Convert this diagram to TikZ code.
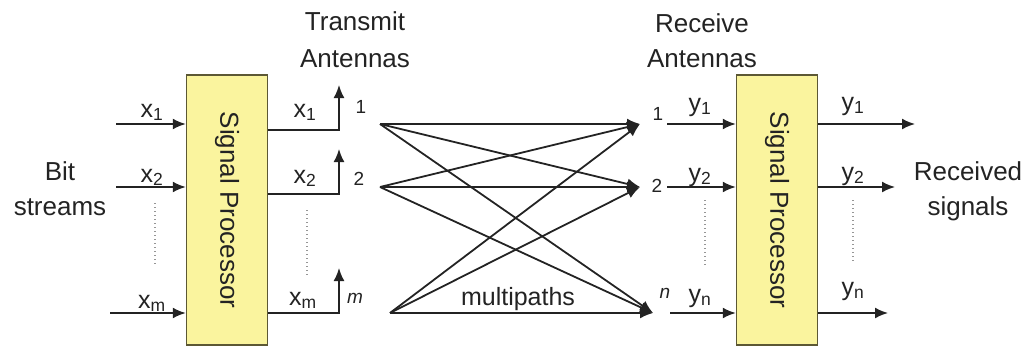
\documentclass[tikz,border=0pt]{standalone}
\usepackage{fontspec}
\setmainfont{Liberation Sans}
\usepackage{graphicx}
\usepackage{tikz}
\usetikzlibrary{arrows.meta,positioning}
\definecolor{amarillo}{RGB}{250,244,158}
\definecolor{borde}{RGB}{92,88,52}
\definecolor{linea}{RGB}{35,35,35}
\definecolor{punto}{RGB}{150,150,150}

\begin{document}
\begin{tikzpicture}[x=1pt,y=-1pt,
proc/.style={draw=borde,line width=1.5pt,fill=amarillo,minimum width=81pt,minimum height=270pt,inner sep=0pt,font=\fontsize{26}{30}\selectfont,text=linea},
arr/.style={-{Latex[length=13pt,width=11pt]},line width=1.8pt,draw=linea},
lbl/.style={font=\fontsize{26}{35}\selectfont,text=linea,align=center,inner sep=0pt},
sig/.style={font=\fontsize{25}{30}\selectfont,text=linea,anchor=base,inner sep=0pt},
num/.style={font=\fontsize{19}{20}\selectfont,text=linea,anchor=base,inner sep=0pt},
dots/.style={line width=1.4pt,draw=punto,dash pattern=on 1.4pt off 2.6pt}
]
\useasboundingbox (0,0) rectangle (1033,346);

% processors
\node[proc] (spt) at (227,210) {\rotatebox{-90}{Signal Processor}};
\node[proc] (spr) at (777,210) {\rotatebox{-90}{Signal Processor}};

% titles
\node[lbl] (bits) at (60,189) {Bit\\streams};
\node[lbl,font=\fontsize{26}{37}\selectfont] (txa) at (355,40) {Transmit\\Antennas};
\node[lbl,font=\fontsize{26}{35}\selectfont] (rxa) at (702,41) {Receive\\Antennas};
\node[lbl] (recv) at (968,191) {Received\\signals};

% inputs
\coordinate (in1) at (116,124);
\coordinate (in2) at (116,187);
\coordinate (in3) at (110,313);
\foreach \c in {in1,in2,in3} \draw[arr] (\c) -- (\c -| spt.west);
\node[sig] (xi1) at (152,117) {x\textsubscript{1}};
\node[sig] (xi2) at (152,182) {x\textsubscript{2}};
\node[sig] (xi3) at (152,308) {x\textsubscript{m}};
\draw[dots] (155,203) -- (155,265);

% transmit antennas
\coordinate (tx1) at (339,130);
\coordinate (tx2) at (339,194);
\coordinate (tx3) at (339,313);
\foreach \c in {tx1,tx2,tx3} \draw[arr] (\c -| spt.east) -- (\c) -- ++(0,-45);
\node[sig] (xo1) at (305,117) {x\textsubscript{1}};
\node[sig] (xo2) at (305,183) {x\textsubscript{2}};
\node[sig] (xo3) at (303,305) {x\textsubscript{m}};
\draw[dots] (307,210) -- (307,275);
\node[num] (t1) at (361,113) {1};
\node[num] (t2) at (359,185) {2};
\node[num,font=\fontsize{19}{20}\selectfont\itshape] (t3) at (355,303) {m};

% multipaths
\coordinate (s1) at (380,124);
\coordinate (s2) at (380,187);
\coordinate (s3) at (390,313);
\coordinate (r1) at (640,124);
\coordinate (r2) at (640,187);
\coordinate (r3) at (653,313);
\foreach \s in {s1,s2,s3}
  \foreach \r in {r1,r2,r3}
    \draw[arr] (\s) -- (\r);
\node[sig] (mp) at (518,305) {multipaths};

% receive antennas
\node[num] (a1) at (658,120) {1};
\node[num] (a2) at (657,192) {2};
\node[num,font=\fontsize{19}{20}\selectfont\itshape] (a3) at (665,298) {n};
\coordinate (ra1) at (667,124);
\coordinate (ra2) at (667,187);
\coordinate (ra3) at (670,313);
\foreach \c in {ra1,ra2,ra3} \draw[arr] (\c) -- (\c -| spr.west);
\node[sig] (yi1) at (700,111) {y\textsubscript{1}};
\node[sig] (yi2) at (700,181) {y\textsubscript{2}};
\node[sig] (yi3) at (700,302) {y\textsubscript{n}};
\draw[dots] (705,200) -- (705,265);

% outputs
\coordinate (out1) at (915,124);
\coordinate (out2) at (895,187);
\coordinate (out3) at (888,313);
\foreach \c in {out1,out2,out3} \draw[arr] (\c -| spr.east) -- (\c);
\node[sig] (yo1) at (853,110) {y\textsubscript{1}};
\node[sig] (yo2) at (853,180) {y\textsubscript{2}};
\node[sig] (yo3) at (853,295) {y\textsubscript{n}};
\draw[dots] (853,200) -- (853,262);
\end{tikzpicture}
\end{document}
